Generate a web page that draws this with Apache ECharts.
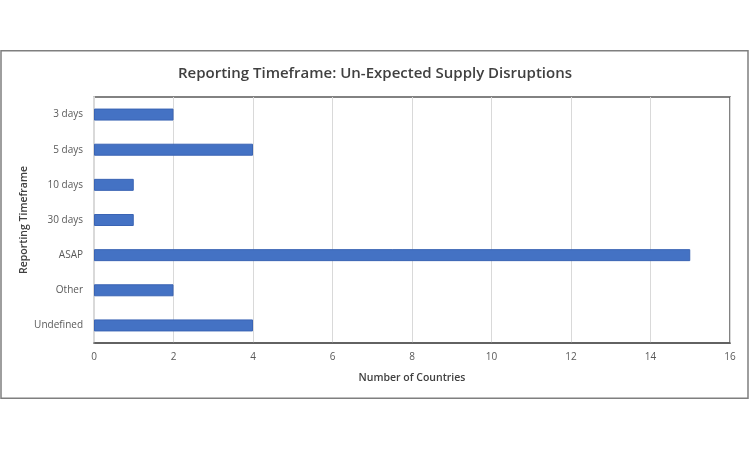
<!DOCTYPE html>
<html><head><meta charset="utf-8">
<script src="https://cdn.jsdelivr.net/npm/echarts@6/dist/echarts.min.js"></script>
<style>html,body{margin:0;padding:0;background:#fff}#c{width:750px;height:450px}</style>
</head><body><div id="c"></div>
<script>
const categories = ['3 days','5 days','10 days','30 days','ASAP','Other','Undefined'];
const values = [2,4,1,1,15,2,4];
const xTicks = {min:0,max:16,interval:2};
const F = 'Open Sans';
const chart = echarts.init(document.getElementById('c'));
chart.setOption({
  animation:false,
  graphic:[{type:'rect',shape:{x:1,y:50.75,width:747,height:347.5},style:{fill:'none',stroke:'#7f7f7f',lineWidth:1.5},silent:true}],
  title:{text:'Reporting Timeframe: Un-Expected Supply Disruptions',left:'center',top:61,
    textStyle:{fontFamily:F,fontSize:15,fontWeight:600,color:'#404040'}},
  grid:{left:94,right:20,top:97,bottom:107,show:true,borderColor:'#595959',borderWidth:1.5,backgroundColor:'transparent'},
  xAxis:{type:'value',min:xTicks.min,max:xTicks.max,interval:xTicks.interval,
    name:'Number of Countries',nameLocation:'middle',nameGap:30,nameMoveOverlap:false,
    nameTextStyle:{fontFamily:F,fontSize:10.5,fontWeight:600,color:'#404040'},
    axisLabel:{fontFamily:F,fontSize:10,color:'#595959',margin:9},
    axisLine:{show:true,lineStyle:{color:'#595959',width:1.5}},axisTick:{show:false},
    splitLine:{show:true,lineStyle:{color:'#d9d9d9',width:1}}},
  yAxis:{type:'category',data:categories,inverse:true,
    name:'Reporting Timeframe',nameLocation:'middle',nameGap:64,nameMoveOverlap:false,
    nameTextStyle:{fontFamily:F,fontSize:10.5,fontWeight:600,color:'#404040'},
    axisLabel:{fontFamily:F,fontSize:10,color:'#595959',margin:11},
    axisLine:{show:true,lineStyle:{color:'#d9d9d9',width:2}},axisTick:{show:false},splitLine:{show:false}},
  series:[{type:'bar',data:values,barWidth:12,
    itemStyle:{color:'#4472C4',borderColor:'#3a64b4',borderWidth:1}}]
});
</script></body></html>
